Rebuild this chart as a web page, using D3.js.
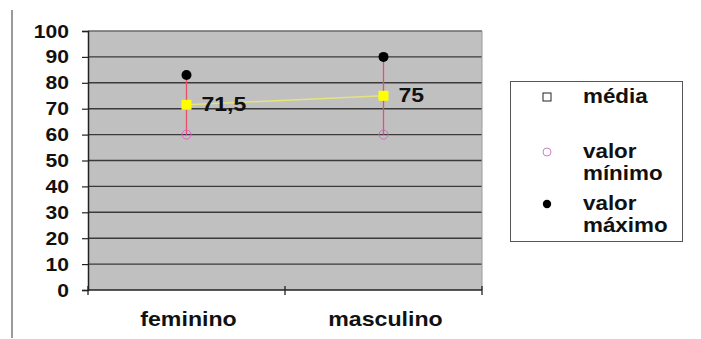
<!DOCTYPE html>
<html>
<head>
<meta charset="utf-8">
<script src="https://cdn.jsdelivr.net/npm/d3@7"></script>
<style>
  html, body { margin: 0; padding: 0; background: #fff; }
  svg { display: block; font-family: "Liberation Sans", Arial, sans-serif; }
</style>
</head>
<body>
<svg id="chart" width="701" height="339"></svg>
<script>
// Data: min / mean / max by sex
const categories = ["feminino", "masculino"];
const meanValues = [71.5, 75];
const minValues = [60, 60];
const maxValues = [83, 90];
const meanLabels = ["71,5", "75"];
const yTicks = [0, 10, 20, 30, 40, 50, 60, 70, 80, 90, 100];
const legendItems = [
  { key: "mean", lines: ["média"] },
  { key: "min", lines: ["valor", "mínimo"] },
  { key: "max", lines: ["valor", "máximo"] }
];

const svg = d3.select("#chart");
const plot = { left: 88, right: 482, top: 31, bottom: 290 };
const WIDE = 1.14; // horizontal stretch of the bold labels

const x = d3.scaleBand().domain(categories).range([plot.left, plot.right]);
const y = d3.scaleLinear().domain([0, 100]).range([plot.bottom, plot.top]);

// bold, slightly widened text placed at (px, py)
function label(parent, px, py, str, size, anchor, sx) {
  return parent.append("text")
    .attr("transform", `translate(${px},${py}) scale(${sx || WIDE},1)`)
    .attr("text-anchor", anchor || "start")
    .attr("font-size", size)
    .attr("font-weight", "bold")
    .attr("fill", "#111")
    .text(str);
}

// left frame line
svg.append("line")
  .attr("x1", 12).attr("x2", 12).attr("y1", 10).attr("y2", 338)
  .attr("stroke", "#9a9a9a").attr("stroke-width", 2);

// plot background
svg.append("rect")
  .attr("x", plot.left).attr("y", plot.top)
  .attr("width", plot.right - plot.left).attr("height", plot.bottom - plot.top)
  .attr("fill", "#c0c0c0");

// gridlines
svg.append("g").selectAll("line")
  .data(yTicks.filter(d => d > 0))
  .join("line")
  .attr("x1", plot.left).attr("x2", plot.right)
  .attr("y1", d => y(d)).attr("y2", d => y(d))
  .attr("stroke", d => d === 100 ? "#6a6a6a" : "#3a3a3a")
  .attr("stroke-width", 1.4);

// right edge of plot
svg.append("line")
  .attr("x1", plot.right).attr("x2", plot.right)
  .attr("y1", plot.top).attr("y2", plot.bottom)
  .attr("stroke", "#9a9a9a").attr("stroke-width", 1);

// y axis
const yAxis = svg.append("g")
  .attr("transform", `translate(${plot.left},0)`)
  .call(d3.axisLeft(y).tickValues(yTicks).tickSize(6).tickFormat(""));
yAxis.select(".domain").attr("stroke", "#222").attr("stroke-width", 1.5);
yAxis.selectAll(".tick line").attr("stroke", "#222").attr("stroke-width", 1.2);
const yLabels = svg.append("g");
yTicks.forEach(t => label(yLabels, 69, y(t) + 6.5, String(t), 18.5, "end"));

// x axis baseline with ticks at band boundaries
const xAxisG = svg.append("g");
xAxisG.append("line")
  .attr("x1", plot.left).attr("x2", plot.right)
  .attr("y1", plot.bottom).attr("y2", plot.bottom)
  .attr("stroke", "#222").attr("stroke-width", 1.5);
const boundaries = [plot.left].concat(categories.map(c => x(c) + x.bandwidth()));
xAxisG.selectAll("line.tk")
  .data(boundaries)
  .join("line")
  .attr("class", "tk")
  .attr("x1", d => d).attr("x2", d => d)
  .attr("y1", plot.bottom - 4).attr("y2", plot.bottom + 5)
  .attr("stroke", "#222").attr("stroke-width", 1.3);
categories.forEach(c => label(xAxisG, x(c) + x.bandwidth() / 2 + 2, 326, c, 20.5, "middle", 1.13));

const cx = i => x(categories[i]) + x.bandwidth() / 2;

// line connecting means
svg.append("path")
  .datum(meanValues)
  .attr("d", d3.line().x((d, i) => cx(i)).y(d => y(d)))
  .attr("fill", "none")
  .attr("stroke", "#e4e47a").attr("stroke-width", 1.5);

// min-max range lines
svg.append("g").selectAll("line")
  .data(categories)
  .join("line")
  .attr("x1", (d, i) => cx(i)).attr("x2", (d, i) => cx(i))
  .attr("y1", (d, i) => y(maxValues[i])).attr("y2", (d, i) => y(minValues[i]))
  .attr("stroke", "#e8506a").attr("stroke-width", 1.3);

// min markers (open circles)
svg.append("g").selectAll("circle")
  .data(minValues)
  .join("circle")
  .attr("cx", (d, i) => cx(i)).attr("cy", d => y(d))
  .attr("r", 4.5)
  .attr("fill", "none").attr("stroke", "#e060c8").attr("stroke-width", 1);

// max markers (filled black)
svg.append("g").selectAll("circle")
  .data(maxValues)
  .join("circle")
  .attr("cx", (d, i) => cx(i)).attr("cy", d => y(d))
  .attr("r", 5)
  .attr("fill", "#000");

// mean markers (yellow squares)
svg.append("g").selectAll("rect")
  .data(meanValues)
  .join("rect")
  .attr("x", (d, i) => cx(i) - 5).attr("y", d => y(d) - 5)
  .attr("width", 10).attr("height", 10)
  .attr("fill", "#ffff00");

// mean value labels
const valG = svg.append("g");
meanValues.forEach((v, i) => label(valG, cx(i) + 15, y(v) + 6, meanLabels[i], 19.5, "start", 1.18));

// legend
const legend = svg.append("g");
legend.append("rect")
  .attr("x", 510.5).attr("y", 81.5).attr("width", 172).attr("height", 160)
  .attr("fill", "#fff").attr("stroke", "#555").attr("stroke-width", 1);

const legendRowY = [97, 152, 204];
const markerX = 547;
legendItems.forEach((item, i) => {
  const yy = legendRowY[i];
  if (item.key === "mean") {
    legend.append("rect")
      .attr("x", markerX - 4).attr("y", yy - 4).attr("width", 8).attr("height", 8)
      .attr("fill", "#fff").attr("stroke", "#222").attr("stroke-width", 1);
  } else if (item.key === "min") {
    legend.append("circle")
      .attr("cx", markerX).attr("cy", yy).attr("r", 4)
      .attr("fill", "none").attr("stroke", "#d080c8").attr("stroke-width", 1);
  } else {
    legend.append("circle")
      .attr("cx", markerX).attr("cy", yy).attr("r", 4.2)
      .attr("fill", "#000");
  }
  item.lines.forEach((ln, j) => label(legend, 583, yy + 6 + j * 22, ln, 20, "start", 1.12));
});
</script>
</body>
</html>
